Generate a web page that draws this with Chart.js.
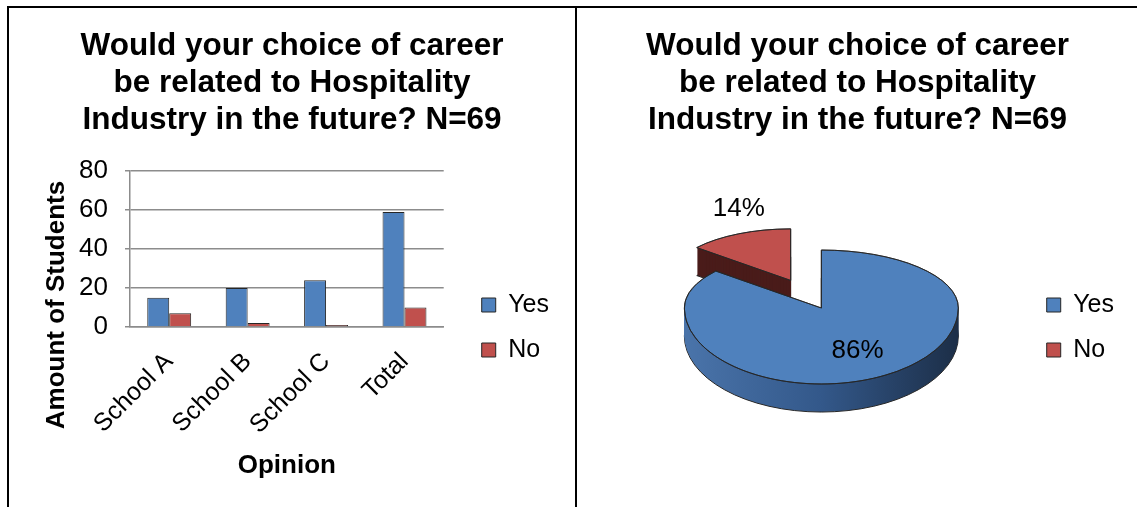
<!DOCTYPE html>
<html>
<head>
<meta charset="utf-8">
<title>Career choice and the hospitality industry</title>
<script src="https://cdn.jsdelivr.net/npm/chart.js@4.4.1/dist/chart.umd.min.js"></script>
<style>
  html, body { margin: 0; padding: 0; background: #fff; }
  body { width: 1137px; height: 507px; position: relative; overflow: hidden; }
  .rule { position: absolute; background: #000; }
  canvas { position: absolute; }
</style>
</head>
<body>
<div class="rule" style="left:7px;top:6px;width:1130px;height:2px"></div>
<div class="rule" style="left:7px;top:6px;width:2px;height:501px"></div>
<div class="rule" style="left:575px;top:6px;width:2px;height:501px"></div>
<canvas id="barChart" width="565" height="499" style="left:9px;top:8px"></canvas>
<canvas id="pieChart" width="560" height="499" style="left:577px;top:8px"></canvas>
<script>
// ---- data ----
const categories = ['School A', 'School B', 'School C', 'Total'];
const seriesNames = ['Yes', 'No'];
const yesCounts = [15, 20, 24, 59];
const noCounts = [7, 2, 1, 10];
const pieShares = [86, 14];
const yTicks = [0, 20, 40, 60, 80];
const chartTitle = ['Would your choice of career', 'be related to Hospitality', 'Industry in the future? N=69'];
const xAxisTitle = 'Opinion';
const yAxisTitle = 'Amount of Students';

// ---- styling ----
const FAMILY = '"Liberation Sans", Arial, Helvetica, sans-serif';
const BLUE = '#4F81BD';
const RED = '#C0504D';
const OUTLINE = '#262626';
const GRID = '#8c8c8c';

Chart.defaults.font.family = FAMILY;
Chart.defaults.color = '#000';

const titleOptions = {
  display: true,
  text: chartTitle,
  color: '#000',
  font: { size: 31.5, weight: 'bold', lineHeight: 37 / 31.5 },
  padding: { top: 19.5, bottom: 32.5 }
};

// legend sits to the right; an empty legend title pushes the entries down
const legendOptions = {
  position: 'right',
  align: 'start',
  maxWidth: 99,
  title: { display: true, text: '', font: { size: 10, lineHeight: 1 }, padding: { top: 254.5, bottom: 0 } },
  labels: { boxWidth: 14, boxHeight: 14, padding: 20, color: '#000', font: { size: 25 } }
};

// vertical axis caption drawn beside the value axis
const sideTitle = {
  id: 'sideTitle',
  afterDraw(chart, args, o) {
    if (!o || !o.text) return;
    const ctx = chart.ctx;
    ctx.save();
    ctx.translate(o.x, o.y);
    ctx.rotate(-Math.PI / 2);
    ctx.font = `bold ${o.size}px ${FAMILY}`;
    ctx.fillStyle = o.color;
    ctx.textAlign = 'center';
    ctx.textBaseline = 'middle';
    ctx.fillText(o.text, 0, 0);
    ctx.restore();
  }
};

new Chart(document.getElementById('barChart'), {
  type: 'bar',
  data: {
    labels: categories,
    datasets: [
      { label: seriesNames[0], data: yesCounts, backgroundColor: BLUE, borderColor: OUTLINE, borderWidth: 1,
        categoryPercentage: 0.56, barPercentage: 1 },
      { label: seriesNames[1], data: noCounts, backgroundColor: RED, borderColor: OUTLINE, borderWidth: 1,
        categoryPercentage: 0.56, barPercentage: 1 }
    ]
  },
  options: {
    responsive: false,
    animation: false,
    devicePixelRatio: 1,
    layout: { padding: { left: 16, right: 15, top: 0, bottom: 0 } },
    plugins: {
      title: titleOptions,
      legend: legendOptions,
      tooltip: { enabled: false },
      sideTitle: { text: yAxisTitle, x: 48, y: 297, size: 26, color: '#000' }
    },
    scales: {
      x: {
        grid: { display: false },
        border: { display: true, color: GRID, width: 1.5 },
        ticks: { color: '#000', font: { size: 25 }, minRotation: 45, maxRotation: 45, padding: 12, autoSkip: false },
        title: { display: true, text: xAxisTitle, color: '#000', font: { size: 26, weight: 'bold' }, padding: { top: 0, bottom: 26 } },
        afterFit(scale) { scale.height = 180; }
      },
      y: {
        min: yTicks[0],
        max: yTicks[yTicks.length - 1],
        ticks: { stepSize: yTicks[1] - yTicks[0], color: '#000', font: { size: 26 }, padding: 17 },
        grid: { color: GRID, lineWidth: 1.5, tickLength: 5 },
        border: { color: GRID, width: 1.5 },
        afterFit(scale) { scale.width = 105; }
      },
      gap: {
        type: 'linear',
        position: 'right',
        grid: { display: false },
        ticks: { display: false },
        border: { display: false },
        afterFit(scale) { scale.width = 18; }
      }
    }
  },
  plugins: [sideTitle]
});

// ---- tilted pie: side walls, exploded slice and perspective squash ----
function squash(ctx, cx, cy, k) {
  ctx.translate(cx, cy);
  ctx.scale(1, k);
  ctx.translate(-cx, -cy);
}
function placeSlice(ctx, arc, i, o) {
  const mid = (arc.startAngle + arc.endAngle) / 2;
  const e = o.explode[i] || 0;
  const s = o.shrink[i] || 1;
  ctx.translate(arc.x + Math.cos(mid) * e, arc.y + Math.sin(mid) * e);
  ctx.scale(s, s);
  ctx.translate(-arc.x, -arc.y);
}
function slicePath(ctx, arc) {
  ctx.beginPath();
  ctx.moveTo(arc.x, arc.y);
  ctx.arc(arc.x, arc.y, arc.outerRadius, arc.startAngle, arc.endAngle);
  ctx.closePath();
}

const pie3d = {
  id: 'pie3d',
  beforeDatasetsDraw(chart, args, o) {
    const arcs = chart.getDatasetMeta(0).data;
    if (!arcs.length) return;
    const ctx = chart.ctx;
    const base = ctx.getTransform();
    const cx = arcs[0].x, cy = arcs[0].y, R = arcs[0].outerRadius;
    const W = chart.width, H = chart.height;
    // far half and near half of the disc are flattened differently
    const halves = [[o.backTilt, -H, cy + H], [o.frontTilt, cy, 2 * H]];

    const sideFill = (i) => {
      if (i === 0) {
        const g = ctx.createLinearGradient(cx - R, 0, cx + R, 0);
        o.sideStops.forEach((c, j) => g.addColorStop(j / (o.sideStops.length - 1), c));
        return g;
      }
      return o.sideColor;
    };

    // side walls, stacked from the bottom up
    for (let d = o.depth; d >= 1; d--) {
      for (const [k, y0, h] of halves) {
        ctx.save();
        ctx.translate(0, d);
        ctx.beginPath();
        ctx.rect(-W, y0, 3 * W, h);
        ctx.clip();
        squash(ctx, cx, cy, k);
        arcs.forEach((arc, i) => {
          ctx.save();
          placeSlice(ctx, arc, i, o);
          slicePath(ctx, arc);
          ctx.fillStyle = sideFill(i);
          ctx.fill();
          if (d === o.depth) {
            ctx.setTransform(base);
            ctx.strokeStyle = o.outline;
            ctx.lineWidth = 1;
            ctx.stroke();
          }
          ctx.restore();
        });
        ctx.restore();
      }
    }

    // top faces
    for (const [k, y0, h] of halves) {
      ctx.save();
      ctx.beginPath();
      ctx.rect(-W, y0, 3 * W, h);
      ctx.clip();
      squash(ctx, cx, cy, k);
      arcs.forEach((arc, i) => {
        ctx.save();
        placeSlice(ctx, arc, i, o);
        arc.draw(ctx);
        slicePath(ctx, arc);
        ctx.setTransform(base);
        ctx.strokeStyle = o.outline;
        ctx.lineWidth = 1;
        ctx.stroke();
        ctx.restore();
      });
      ctx.restore();
    }
    return false;
  }
};

const sliceLabels = {
  id: 'sliceLabels',
  afterDraw(chart, args, o) {
    const arcs = chart.getDatasetMeta(0).data;
    if (!arcs.length) return;
    const p = chart.options.plugins.pie3d;
    const values = chart.data.datasets[0].data;
    const ctx = chart.ctx;
    const cy = arcs[0].y;
    ctx.save();
    ctx.font = `${o.size}px ${FAMILY}`;
    ctx.fillStyle = o.color;
    ctx.textAlign = 'center';
    ctx.textBaseline = 'middle';
    arcs.forEach((arc, i) => {
      const mid = (arc.startAngle + arc.endAngle) / 2;
      const inside = o.placement[i] === 'inside';
      const r = arc.outerRadius * (inside ? o.insideRatio : 1);
      const e = p.explode[i] || 0;
      const s = p.shrink[i] || 1;
      const x = arc.x + Math.cos(mid) * (e + r * s);
      let y = arc.y + Math.sin(mid) * (e + r * s);
      y = cy + (y - cy) * (y < cy ? p.backTilt : p.frontTilt);
      if (!inside) y -= o.lift;
      ctx.fillText(values[i] + '%', x, y);
    });
    ctx.restore();
  }
};

new Chart(document.getElementById('pieChart'), {
  type: 'pie',
  data: {
    labels: seriesNames,
    datasets: [{
      data: pieShares,
      backgroundColor: [BLUE, RED],
      borderColor: OUTLINE,
      borderWidth: 1,
      radius: 137
    }]
  },
  options: {
    responsive: false,
    animation: false,
    devicePixelRatio: 1,
    radius: 137,
    layout: { padding: { left: 14, right: 13, top: 0, bottom: 62 } },
    plugins: {
      title: titleOptions,
      // empty left box that keeps the disc clear of the frame
      subtitle: { display: true, position: 'left', text: '', font: { size: 10, lineHeight: 1 }, padding: { top: 15, bottom: 0 } },
      legend: legendOptions,
      tooltip: { enabled: false },
      pie3d: {
        depth: 28,
        backTilt: 0.423,
        frontTilt: 0.555,
        explode: [0, 72],
        shrink: [1, 0.89],
        sideStops: ['#4a74aa', '#33588a', '#1c2e47'],
        sideColor: '#4a1c1a',
        outline: OUTLINE
      },
      sliceLabels: { size: 26, color: '#000', placement: ['inside', 'outside'], insideRatio: 0.62, lift: 25 }
    }
  },
  plugins: [pie3d, sliceLabels]
});
</script>
</body>
</html>
